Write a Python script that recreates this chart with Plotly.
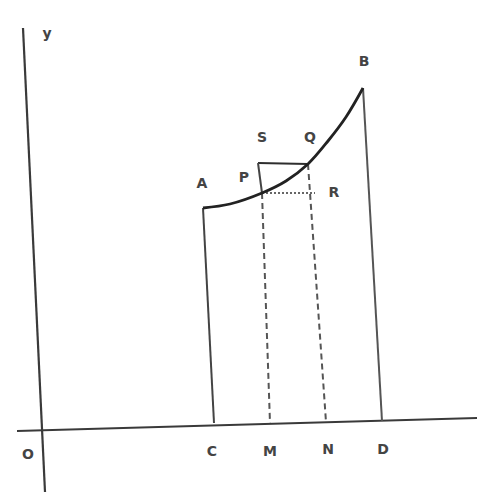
import plotly.graph_objects as go

W, H = 477, 492

# axes (scan coordinates, slightly skewed)
yaxis_x = [23, 45]
yaxis_y = [28, 492]
xaxis_x = [17, 477]
xaxis_y = [431, 418]

# curve A -> P -> Q -> B
curve_x = [203, 230, 262, 286, 308, 328, 346, 363]
curve_y = [208, 204, 193, 181, 164, 141, 117, 88]

# ordinates
left_x = [203, 214]     # A -> C
left_y = [208, 423]
right_x = [363, 382]    # B -> D
right_y = [88, 421]
s_top_x = [258, 308]    # S -> Q
s_top_y = [163, 164]
sp_x = [258, 262]       # S -> P
sp_y = [163, 193]
pm_x = [262, 270]       # P -> M (dashed)
pm_y = [193, 423]
qn_x = [308, 326]       # Q -> N (dashed)
qn_y = [164, 422]
pr_x = [262, 315]       # P -> R (dotted)
pr_y = [193, 193]

label_text = ["y", "O", "C", "M", "N", "D", "A", "P", "S", "Q", "R", "B"]
label_x = [47, 28, 212, 270, 328, 383, 202, 244, 262, 310, 334, 364]
label_y = [34, 455, 452, 452, 450, 450, 184, 178, 138, 138, 193, 62]

ink = "#2e2e2e"
fig = go.Figure()

def seg(x, y, width=2, dash="solid", shape="linear", color=ink):
    fig.add_trace(go.Scatter(x=x, y=y, mode="lines",
                             line=dict(color=color, width=width, dash=dash, shape=shape),
                             hoverinfo="skip", showlegend=False))

seg(yaxis_x, yaxis_y, width=2.2, color="#3a3a3a")
seg(xaxis_x, xaxis_y, width=2.2, color="#3a3a3a")
seg(left_x, left_y, width=2, color="#444")
seg(right_x, right_y, width=2, color="#555")
seg(s_top_x, s_top_y, width=2)
seg(sp_x, sp_y, width=2, color="#444")
seg(pm_x, pm_y, width=2, dash="6px,4px", color="#555")
seg(qn_x, qn_y, width=2, dash="6px,4px", color="#555")
seg(pr_x, pr_y, width=1.8, dash="2px,2px", color="#666")
seg(curve_x, curve_y, width=2.8, shape="spline", color="#222")

fig.add_trace(go.Scatter(x=label_x, y=label_y, mode="text", text=label_text,
                         textfont=dict(family="DejaVu Sans", size=14, color="#444",
                                       weight="bold"),
                         hoverinfo="skip", showlegend=False))

fig.update_layout(width=W, height=H, margin=dict(l=0, r=0, t=0, b=0),
                  paper_bgcolor="white", plot_bgcolor="white",
                  xaxis=dict(range=[0, W], visible=False, fixedrange=True),
                  yaxis=dict(range=[H, 0], visible=False, fixedrange=True))

fig.write_html("out.html", config={"displayModeBar": False},
               post_script="document.body.style.margin='0';document.body.style.overflow='hidden';")
